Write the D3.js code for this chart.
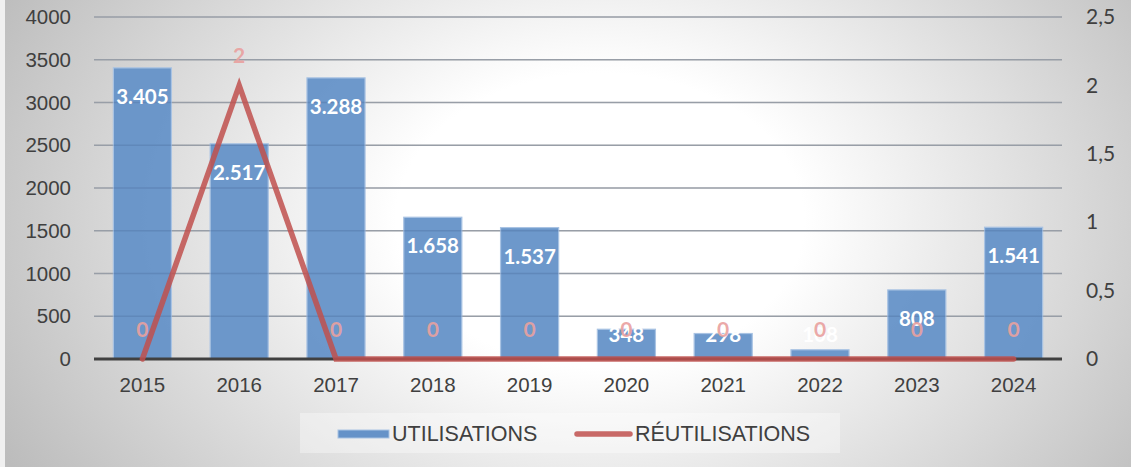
<!DOCTYPE html>
<html>
<head>
<meta charset="utf-8">
<script src="https://cdn.jsdelivr.net/npm/d3@7"></script>
<style>
body { margin: 0; background: #f0f0f0; }
svg { display: block; }
</style>
</head>
<body>
<svg id="chart" width="1131" height="467"></svg>
<script>
var years = ["2015", "2016", "2017", "2018", "2019", "2020", "2021", "2022", "2023", "2024"];
var utilisations = [3405, 2517, 3288, 1658, 1537, 348, 298, 108, 808, 1541];
var reutilisations = [0, 2, 0, 0, 0, 0, 0, 0, 0, 0];
var leftTicks = [0, 500, 1000, 1500, 2000, 2500, 3000, 3500, 4000];
var rightTicks = [0, 0.5, 1, 1.5, 2, 2.5];
var seriesNames = ["UTILISATIONS", "RÉUTILISATIONS"];

var BAR_COLOR = "#6592c8";
var LINE_COLOR = "#c0504d";

var svg = d3.select("#chart");
var W = 1131, H = 467;
var margin = { left: 94, right: 69, top: 17, bottom: 108 };
var plotW = W - margin.left - margin.right;
var plotH = H - margin.top - margin.bottom;

// background gradient (white in the middle, grey towards the edges)
var defs = svg.append("defs");
var grad = defs.append("radialGradient")
	.attr("id", "bg")
	.attr("gradientUnits", "userSpaceOnUse")
	.attr("cx", 600).attr("cy", 220).attr("r", 680)
	.attr("gradientTransform", "translate(600,220) scale(1,0.72) translate(-600,-220)");
grad.append("stop").attr("offset", "0.3").attr("stop-color", "#ffffff");
grad.append("stop").attr("offset", "1").attr("stop-color", "#bcbcbc");

svg.append("rect").attr("x", 0).attr("y", 0).attr("width", W).attr("height", H)
	.attr("fill", "#f0f0f0");
svg.append("rect").attr("x", 5).attr("y", 0).attr("width", W - 5).attr("height", H)
	.attr("fill", "url(#bg)");

var g = svg.append("g").attr("transform", "translate(" + margin.left + "," + margin.top + ")");

var x = d3.scaleBand().domain(years).range([0, plotW]).paddingInner(0.4).paddingOuter(0.2);
var y = d3.scaleLinear().domain([0, 4000]).range([plotH, 0]);
var y2 = d3.scaleLinear().domain([0, 2.5]).range([plotH, 0]);

// gridlines
g.append("g").selectAll("line").data(leftTicks.slice(1)).enter().append("line")
	.attr("x1", 0).attr("x2", plotW)
	.attr("y1", function(d) { return y(d); })
	.attr("y2", function(d) { return y(d); })
	.attr("stroke", "#b0b0b0")
	.attr("stroke-width", 1.5);

// bars
g.append("g").selectAll("rect").data(utilisations).enter().append("rect")
	.attr("x", function(d, i) { return x(years[i]); })
	.attr("y", function(d) { return y(d); })
	.attr("width", x.bandwidth())
	.attr("height", function(d) { return plotH - y(d); })
	.attr("fill", BAR_COLOR)
	.attr("fill-opacity", 0.95)
	.attr("stroke", "#a9c3e3")
	.attr("stroke-width", 1.2);

// gridlines faintly over bars
g.append("g").selectAll("line").data(leftTicks.slice(1)).enter().append("line")
	.attr("x1", 0).attr("x2", plotW)
	.attr("y1", function(d) { return y(d); })
	.attr("y2", function(d) { return y(d); })
	.attr("stroke", "#3a5a85")
	.attr("stroke-opacity", 0.2)
	.attr("stroke-width", 1.5);

// baseline
g.append("line")
	.attr("x1", 0).attr("x2", plotW)
	.attr("y1", y(0)).attr("y2", y(0))
	.attr("stroke", "#404040")
	.attr("stroke-width", 3);

// line series
var line = d3.line()
	.x(function(d, i) { return x(years[i]) + x.bandwidth() / 2; })
	.y(function(d) { return y2(d); });

g.append("path").datum(reutilisations)
	.attr("d", line)
	.attr("fill", "none")
	.attr("stroke", LINE_COLOR)
	.attr("stroke-opacity", 0.85)
	.attr("stroke-width", 5.5)
	.attr("stroke-linejoin", "miter")
	.attr("stroke-linecap", "round");

// bar labels
var fmt = function(v) { return d3.format(",")(v).replace(/,/g, "."); };
g.append("g").selectAll("text").data(utilisations).enter().append("text")
	.attr("x", function(d, i) { return x(years[i]) + x.bandwidth() / 2; })
	.attr("y", function(d) { return Math.min(y(d) + 28, plotH - 25); })
	.attr("text-anchor", "middle")
	.attr("dominant-baseline", "central")
	.attr("font-family", "Lato, 'Open Sans', sans-serif")
	.attr("font-weight", "bold")
	.attr("font-size", 20.5)
	.attr("fill", "#ffffff")
	.text(fmt);

// line labels
g.append("g").selectAll("text").data(reutilisations).enter().append("text")
	.attr("x", function(d, i) { return x(years[i]) + x.bandwidth() / 2; })
	.attr("y", function(d) { return y2(d) - 31; })
	.attr("text-anchor", "middle")
	.attr("dominant-baseline", "central")
	.attr("font-family", "Lato, 'Open Sans', sans-serif")
	.attr("font-weight", "bold")
	.attr("font-size", 21)
	.attr("fill", "#e9a19f")
	.attr("fill-opacity", 0.92)
	.text(function(d) { return d; });

// left axis
var leftAxis = g.append("g")
	.call(d3.axisLeft(y).tickValues(leftTicks).tickSize(0).tickPadding(23).tickFormat(d3.format("d")));
leftAxis.select(".domain").remove();
leftAxis.selectAll("text")
	.attr("font-family", "'Liberation Sans', Arial, sans-serif")
	.attr("font-size", 20.5)
	.attr("fill", "#404040");

// right axis
var rightAxis = g.append("g").attr("transform", "translate(" + plotW + ",0)")
	.call(d3.axisRight(y2).tickValues(rightTicks).tickSize(0).tickPadding(24)
		.tickFormat(function(d) { return String(d).replace(".", ","); }));
rightAxis.select(".domain").remove();
rightAxis.selectAll("text")
	.attr("font-family", "Lato, 'Open Sans', sans-serif")
	.attr("font-size", 21)
	.attr("fill", "#404040");

// x axis
var xAxis = g.append("g").attr("transform", "translate(0," + plotH + ")")
	.call(d3.axisBottom(x).tickSize(0).tickPadding(18));
xAxis.select(".domain").remove();
xAxis.selectAll("text")
	.attr("font-family", "'Liberation Sans', Arial, sans-serif")
	.attr("font-size", 20.5)
	.attr("fill", "#404040");

// legend
var legend = svg.append("g");
legend.append("rect")
	.attr("x", 300).attr("y", 413).attr("width", 540).attr("height", 40)
	.attr("fill", "#ffffff").attr("fill-opacity", 0.35);
legend.append("rect")
	.attr("x", 338).attr("y", 430).attr("width", 51).attr("height", 8)
	.attr("fill", BAR_COLOR).attr("stroke", "#a9c3e3").attr("stroke-width", 1);
legend.append("text")
	.attr("x", 392).attr("y", 434)
	.attr("dominant-baseline", "central")
	.attr("font-family", "'Liberation Sans', Arial, sans-serif")
	.attr("font-size", 21.5)
	.attr("fill", "#404040")
	.text(seriesNames[0]);
legend.append("line")
	.attr("x1", 577).attr("x2", 630).attr("y1", 434).attr("y2", 434)
	.attr("stroke", LINE_COLOR).attr("stroke-opacity", 0.85)
	.attr("stroke-width", 5.5).attr("stroke-linecap", "round");
legend.append("text")
	.attr("x", 635).attr("y", 434)
	.attr("dominant-baseline", "central")
	.attr("font-family", "'Liberation Sans', Arial, sans-serif")
	.attr("font-size", 21.5)
	.attr("fill", "#404040")
	.text(seriesNames[1]);
</script>
</body>
</html>
